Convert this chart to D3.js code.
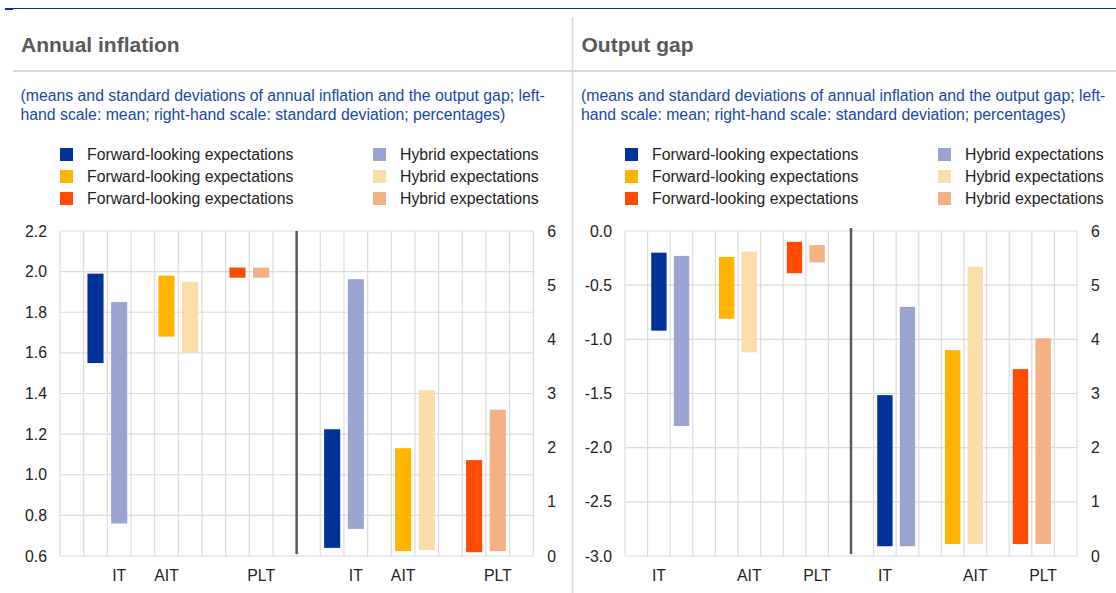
<!DOCTYPE html>
<html><head><meta charset="utf-8">
<script src="https://cdn.jsdelivr.net/npm/d3@7"></script>
<style>
body{margin:0;background:#fff}
svg{display:block;font-family:Arial,"Liberation Sans",sans-serif}
</style>
</head><body>
<svg id="chart" width="1116" height="593"></svg>
<script>
// ---------- data ----------
const slots = d3.range(20);
const inflationLabels = ["", "", "IT", "", "AIT", "", "", "", "PLT", "", "", "", "IT", "", "AIT", "", "", "", "PLT", ""];
const outputGapLabels = ["", "IT", "", "", "", "AIT", "", "", "PLT", "", "", "IT", "", "", "", "AIT", "", "", "PLT", ""];

const seriesNames = ["Forward-looking expectations", "Hybrid expectations",
                     "Forward-looking expectations", "Hybrid expectations",
                     "Forward-looking expectations", "Hybrid expectations"];
const seriesColors = ["#003299", "#9aa4d0", "#ffb400", "#fcdca8", "#ff4b00", "#f4b184"];

const meanSlots = [1, 2, 4, 5, 7, 8];
const sdSlots = [11, 12, 14, 15, 17, 18];

// Annual inflation: means (left scale) and standard deviations (right scale)
const inflationMeanLow  = [1.55, 0.76, 1.68, 1.60, 1.97, 1.97];
const inflationMeanHigh = [1.99, 1.85, 1.98, 1.95, 2.02, 2.02];
const inflationSdLow    = [0.15, 0.50, 0.09, 0.11, 0.07, 0.09];
const inflationSdHigh   = [2.34, 5.11, 1.99, 3.06, 1.77, 2.70];

// Output gap
const outputMeanLow  = [-0.92, -1.80, -0.81, -1.12, -0.39, -0.29];
const outputMeanHigh = [-0.20, -0.23, -0.24, -0.19, -0.10, -0.13];
const outputSdLow    = [0.18, 0.18, 0.22, 0.22, 0.22, 0.22];
const outputSdHigh   = [2.97, 4.60, 3.80, 5.34, 3.45, 4.02];

const inflationLeftTicks = [0.6, 0.8, 1.0, 1.2, 1.4, 1.6, 1.8, 2.0, 2.2];
const outputLeftTicks = [0.0, -0.5, -1.0, -1.5, -2.0, -2.5, -3.0];
const rightTicks = [0, 1, 2, 3, 4, 5, 6];

const subtitleLines = ["(means and standard deviations of annual inflation and the output gap; left-",
                       "hand scale: mean; right-hand scale: standard deviation; percentages)"];

// ---------- drawing ----------
const svg = d3.select("#chart");
svg.append("rect").attr("width", 1116).attr("height", 593).attr("fill", "#fff");

// header rules
svg.append("line").attr("x1", 5).attr("x2", 1116).attr("y1", 8.5).attr("y2", 8.5)
  .attr("stroke", "#003299").attr("stroke-width", 1);
svg.append("rect").attr("x", 5).attr("y", 8).attr("width", 8).attr("height", 2).attr("fill", "#003299");
svg.append("line").attr("x1", 13).attr("x2", 1116).attr("y1", 71).attr("y2", 71)
  .attr("stroke", "#d9d9d9").attr("stroke-width", 2);
svg.append("line").attr("x1", 572.5).attr("x2", 572.5).attr("y1", 17).attr("y2", 593)
  .attr("stroke", "#d9d9d9").attr("stroke-width", 1.5);

function drawPanel(cfg) {
  const g = svg.append("g");
  g.append("text").attr("x", cfg.titleX).attr("y", 52).text(cfg.title)
    .attr("font-size", 21).attr("font-weight", "bold").attr("fill", "#595959");
  subtitleLines.forEach((t, i) => {
    g.append("text").attr("x", cfg.titleX - 0.5).attr("y", 101 + i * 18.5).text(t)
      .attr("font-size", 15.8).attr("fill", "#1a46a5");
  });

  // legend
  const legendRows = [0, 1, 2];
  legendRows.forEach(r => {
    [0, 1].forEach(c => {
      const s = r * 2 + c;
      const lx = cfg.left + c * 313;
      const cy = 154.5 + r * 22;
      g.append("rect").attr("x", lx).attr("y", cy - 6.5).attr("width", 13).attr("height", 13)
        .attr("fill", seriesColors[s]);
      g.append("text").attr("x", lx + 27).attr("y", cy + 5.5).text(seriesNames[s])
        .attr("font-size", 15.8).attr("fill", "#222");
    });
  });

  const x = d3.scaleBand().domain(slots).range([cfg.left, cfg.right]).paddingInner(0).paddingOuter(0);
  const yL = d3.scaleLinear().domain(cfg.leftDomain).range([cfg.bottom, cfg.top]);
  const yR = d3.scaleLinear().domain([0, 6]).range([cfg.bottom, cfg.top]);

  // grid
  const grid = g.append("g").attr("stroke", "#dcdcdc").attr("stroke-width", 1.2);
  cfg.leftTicks.forEach(t => {
    grid.append("line").attr("x1", cfg.left).attr("x2", cfg.right)
      .attr("y1", yL(t)).attr("y2", yL(t));
  });
  slots.concat([20]).forEach(i => {
    const xx = i < 20 ? x(i) : cfg.right;
    grid.append("line").attr("x1", xx).attr("x2", xx).attr("y1", cfg.top).attr("y2", cfg.bottom);
  });

  const bw = x.bandwidth() * 0.68;
  // mean bars
  meanSlots.forEach((sl, i) => {
    const y1 = yL(cfg.meanHigh[i]), y2 = yL(cfg.meanLow[i]);
    g.append("rect").attr("x", x(sl) + (x.bandwidth() - bw) / 2).attr("width", bw)
      .attr("y", y1).attr("height", y2 - y1).attr("fill", seriesColors[i]);
  });
  // sd bars
  sdSlots.forEach((sl, i) => {
    const y1 = yR(cfg.sdHigh[i]), y2 = yR(cfg.sdLow[i]);
    g.append("rect").attr("x", x(sl) + (x.bandwidth() - bw) / 2).attr("width", bw)
      .attr("y", y1).attr("height", y2 - y1).attr("fill", seriesColors[i]);
  });

  // divider
  g.append("line").attr("x1", x(10)).attr("x2", x(10))
    .attr("y1", cfg.top + cfg.divTop).attr("y2", cfg.bottom - 2)
    .attr("stroke", "#595959").attr("stroke-width", 2.5);

  // left axis labels
  const fmt = d3.format(".1f");
  const la = d3.axisLeft(yL).tickValues(cfg.leftTicks)
    .tickFormat(d => fmt(d).replace("\u2212", "-")).tickSize(0).tickPadding(13);
  const lg = g.append("g").attr("transform", `translate(${cfg.left},0)`).call(la);
  lg.select(".domain").remove();
  lg.selectAll("text").attr("font-size", 15.8).attr("fill", "#222").attr("font-family", null);

  const ra = d3.axisRight(yR).tickValues(rightTicks).tickFormat(d3.format("d")).tickSize(0).tickPadding(14);
  const rg = g.append("g").attr("transform", `translate(${cfg.right},0)`).call(ra);
  rg.select(".domain").remove();
  rg.selectAll("text").attr("font-size", 15.8).attr("fill", "#222").attr("font-family", null);

  // category labels
  slots.forEach(i => {
    if (!cfg.labels[i]) return;
    g.append("text").attr("x", x(i) + x.bandwidth() / 2).attr("y", 581)
      .attr("text-anchor", "middle").attr("font-size", 15.8).attr("fill", "#222").text(cfg.labels[i]);
  });
}

drawPanel({
  title: "Annual inflation", titleX: 21, left: 60, right: 533.3, top: 231, bottom: 556, divTop: 0,
  leftDomain: [0.6, 2.2], leftTicks: inflationLeftTicks, labels: inflationLabels,
  meanLow: inflationMeanLow, meanHigh: inflationMeanHigh, sdLow: inflationSdLow, sdHigh: inflationSdHigh
});
drawPanel({
  title: "Output gap", titleX: 581.5, left: 625, right: 1077, top: 231, bottom: 556, divTop: -3,
  leftDomain: [-3, 0], leftTicks: outputLeftTicks, labels: outputGapLabels,
  meanLow: outputMeanLow, meanHigh: outputMeanHigh, sdLow: outputSdLow, sdHigh: outputSdHigh
});
</script>
</body></html>
